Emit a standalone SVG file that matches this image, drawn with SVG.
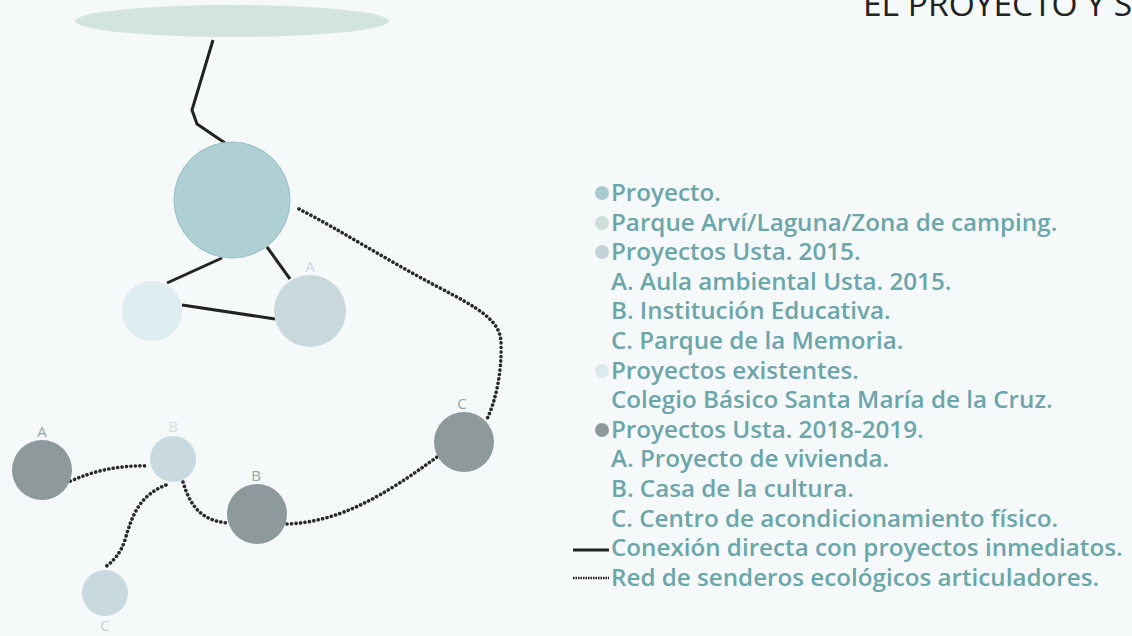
<svg xmlns="http://www.w3.org/2000/svg" width="1132" height="636" viewBox="0 0 1132 636">
<style>
.bg{fill:#f6f9f9}
.solid{fill:none;stroke:#222;stroke-width:3;stroke-linejoin:round}
.dot{fill:none;stroke:#2a2a2a;stroke-width:3.6;stroke-linecap:round;stroke-dasharray:0.1 4.4}
.leg{font-family:"Open Sans","DejaVu Sans",sans-serif;font-weight:600;font-size:24.2px;fill:#6ba6ab}
.lbl{font-family:"Open Sans","DejaVu Sans",sans-serif;font-size:15px;text-anchor:middle}
.title{font-family:"Open Sans","DejaVu Sans",sans-serif;font-size:33.5px;fill:#222}
</style>
<rect class="bg" x="0" y="0" width="1132" height="636"/>
<text class="title" x="863" y="16">EL PROYECTO Y SU</text>
<g id="connectors">
<path class="solid" d="M213,40 L192,110 L197,124 L225,143"/>
<path class="solid" d="M222,258 L167,283"/>
<path class="solid" d="M267,247 L290,279"/>
<path class="solid" d="M182,305 L275,319"/>
<path class="dot" d="M299,209 C340,230 390,262 440,288 C478,308 500,320 501,342 C502,372 496,400 487,419"/>
<path class="dot" d="M66,483 C95,470 120,465 149,466"/>
<path class="dot" d="M166,485 C140,495 132,515 125,540 C120,555 112,562 104,568"/>
<path class="dot" d="M183,482 C190,505 200,520 227,523"/>
<path class="dot" d="M287,524 C340,522 385,495 437,457"/>
</g>
<g id="parque"><ellipse cx="232" cy="21" rx="157" ry="16" fill="#d3e3e0"/></g>
<g id="proyecto"><circle cx="232" cy="200" r="58" fill="#aed0d5" stroke="#93bfc5" stroke-width="1"/></g>
<g id="existente"><circle cx="152" cy="311" r="30" fill="#dfecf0"/></g>
<g id="usta2015-A"><circle cx="310" cy="311" r="36" fill="#c9d8dd"/><text class="lbl" x="310" y="272" fill="#cfdadd">A</text></g>
<g id="usta2018-C"><circle cx="464" cy="442" r="30" fill="#8e999b"/><text class="lbl" x="462" y="409" fill="#9ba4a6">C</text></g>
<g id="usta2018-A"><circle cx="42" cy="470" r="30" fill="#8e999b"/><text class="lbl" x="42" y="437" fill="#9ba4a6">A</text></g>
<g id="usta2015-B"><circle cx="173" cy="459" r="23" fill="#c8d9df"/><text class="lbl" x="173" y="432" fill="#d3dee1">B</text></g>
<g id="usta2018-B"><circle cx="257" cy="514" r="30" fill="#8e999b"/><text class="lbl" x="256" y="481" fill="#9ba4a6">B</text></g>
<g id="usta2015-C"><circle cx="105" cy="593" r="23" fill="#c8d9df"/><text class="lbl" x="105" y="631" fill="#c6d1d4">C</text></g>
<g id="legend">
<circle cx="602" cy="193" r="7" fill="#a9cbd0"/>
<circle cx="602" cy="223" r="7" fill="#cfe0db"/>
<circle cx="602" cy="252" r="7" fill="#c3d2d6"/>
<circle cx="602" cy="371" r="7" fill="#dbe8ec"/>
<circle cx="602" cy="430" r="7" fill="#8e999b"/>
<line x1="573" y1="550" x2="609" y2="550" stroke="#222" stroke-width="3"/>
<line x1="573" y1="578" x2="609" y2="578" stroke="#222" stroke-width="2.5" stroke-dasharray="1.5 1"/>
<text class="leg" x="611" y="201">Proyecto.</text>
<text class="leg" x="611" y="230.6">Parque Arví/Laguna/Zona de camping.</text>
<text class="leg" x="611" y="260.2">Proyectos Usta. 2015.</text>
<text class="leg" x="611" y="289.8">A. Aula ambiental Usta. 2015.</text>
<text class="leg" x="611" y="319.4">B. Institución Educativa.</text>
<text class="leg" x="611" y="349">C. Parque de la Memoria.</text>
<text class="leg" x="611" y="378.6">Proyectos existentes.</text>
<text class="leg" x="611" y="408.2">Colegio Básico Santa María de la Cruz.</text>
<text class="leg" x="611" y="437.8">Proyectos Usta. 2018-2019.</text>
<text class="leg" x="611" y="467.4">A. Proyecto de vivienda.</text>
<text class="leg" x="611" y="497">B. Casa de la cultura.</text>
<text class="leg" x="611" y="526.6">C. Centro de acondicionamiento físico.</text>
<text class="leg" x="611" y="556.2">Conexión directa con proyectos inmediatos.</text>
<text class="leg" x="611" y="585.8">Red de senderos ecológicos articuladores.</text>
</g>
</svg>
